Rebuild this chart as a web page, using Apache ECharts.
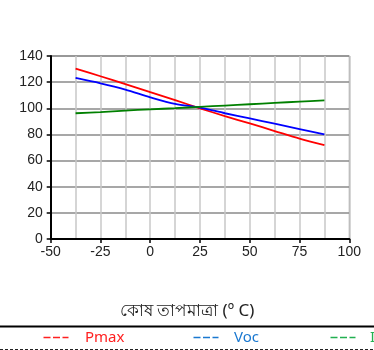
<!DOCTYPE html>
<html><head><meta charset="utf-8">
<style>html,body{margin:0;padding:0;background:#fff}#c{width:374px;height:350px}</style>
<script src="https://cdn.jsdelivr.net/npm/echarts@6/dist/echarts.min.js"></script>
</head><body><div id="c"></div>
<script>
const temps = [-37.5, -25, -12.5, 0, 12.5, 25, 37.5, 50, 62.5, 75, 87.5];
const pmax = [130.3, 124.5, 118.5, 112.3, 106.2, 100, 94, 88.4, 82.6, 76.8, 71.9];
const voc = [123.2, 119.1, 114.3, 108.4, 103.3, 100.5, 96.2, 92.3, 88.2, 84.1, 80];
const isc = [96.2, 97.1, 98.2, 99.2, 100.1, 101.1, 102.1, 103.1, 104.1, 105.1, 106.1];
const xTicks = [-50, -25, 0, 25, 50, 75, 100];
const yTicks = [0, 20, 40, 60, 80, 100, 120, 140];
const xTitle = 'কোষ তাপমাত্রা (º C)';
const legendNames = ['Pmax', 'Voc', 'Isc'];

const pair = (ys) => temps.map((t, i) => [t, ys[i]]);
const chart = echarts.init(document.getElementById('c'), null, {renderer: 'canvas'});
const lbl = {color: '#222', fontFamily: 'Liberation Sans, Arial', fontSize: 14};
const lf = '15px "Noto Sans", sans-serif';
const dash = (x, y, c) => ({type: 'line', shape: {x1: x, y1: y, x2: x + 25, y2: y}, style: {stroke: c, lineWidth: 1.5, lineDash: [7, 2.5]}});
chart.setOption({
  animation: false,
  grid: {left: 50.7, right: 24.7, top: 56, bottom: 111, show: true, borderColor: '#888', borderWidth: 1},
  xAxis: {
    type: 'value', min: xTicks[0], max: xTicks[xTicks.length - 1], interval: 25,
    axisLine: {onZero: false, lineStyle: {color: '#000', width: 2}},
    axisTick: {show: true, length: 4, lineStyle: {color: '#000', width: 1.5}},
    axisLabel: Object.assign({margin: 6}, lbl),
    splitLine: {show: true, lineStyle: {color: '#c8c8c8', width: 1.5}},
    minorTick: {show: false, splitNumber: 2},
    minorSplitLine: {show: true, lineStyle: {color: '#c8c8c8', width: 1.5}}
  },
  yAxis: {
    type: 'value', min: yTicks[0], max: yTicks[yTicks.length - 1], interval: 20,
    axisLine: {show: true, onZero: false, lineStyle: {color: '#000', width: 2}},
    axisTick: {show: true, length: 4, lineStyle: {color: '#000', width: 1.5}},
    axisLabel: Object.assign({margin: 8}, lbl),
    splitLine: {show: true, lineStyle: {color: '#8a8a8a', width: 1.5}}
  },
  series: [
    {name: legendNames[0], type: 'line', data: pair(pmax), smooth: 0.3, showSymbol: false, lineStyle: {color: '#ff0000', width: 1.8}, z: 3},
    {name: legendNames[1], type: 'line', data: pair(voc), smooth: 0.3, showSymbol: false, lineStyle: {color: '#0000ff', width: 1.8}, z: 3},
    {name: legendNames[2], type: 'line', data: pair(isc), smooth: 0.3, showSymbol: false, lineStyle: {color: '#008000', width: 1.8}, z: 3}
  ],
  graphic: [
    {type: 'text', left: 'center', top: 303, style: {text: xTitle, fill: '#222', font: '17px "Noto Sans", sans-serif'}},
    {type: 'line', shape: {x1: 0, y1: 326.5, x2: 374, y2: 326.5}, style: {stroke: '#000', lineWidth: 2}},
    {type: 'line', shape: {x1: 0, y1: 349.5, x2: 374, y2: 349.5}, style: {stroke: '#222', lineWidth: 1, lineDash: [3, 2]}},
    dash(43.5, 337.5, '#ff2020'),
    {type: 'text', x: 85, y: 338, style: {text: legendNames[0], fill: '#ff2020', font: lf, textVerticalAlign: 'middle'}},
    dash(193.5, 337.5, '#1a78d0'),
    {type: 'text', x: 234, y: 338, style: {text: legendNames[1], fill: '#1a78d0', font: lf, textVerticalAlign: 'middle'}},
    dash(330.5, 337.5, '#22b050'),
    {type: 'text', x: 370, y: 338, style: {text: legendNames[2], fill: '#22b050', font: lf, textVerticalAlign: 'middle'}}
  ]
});
</script></body></html>
